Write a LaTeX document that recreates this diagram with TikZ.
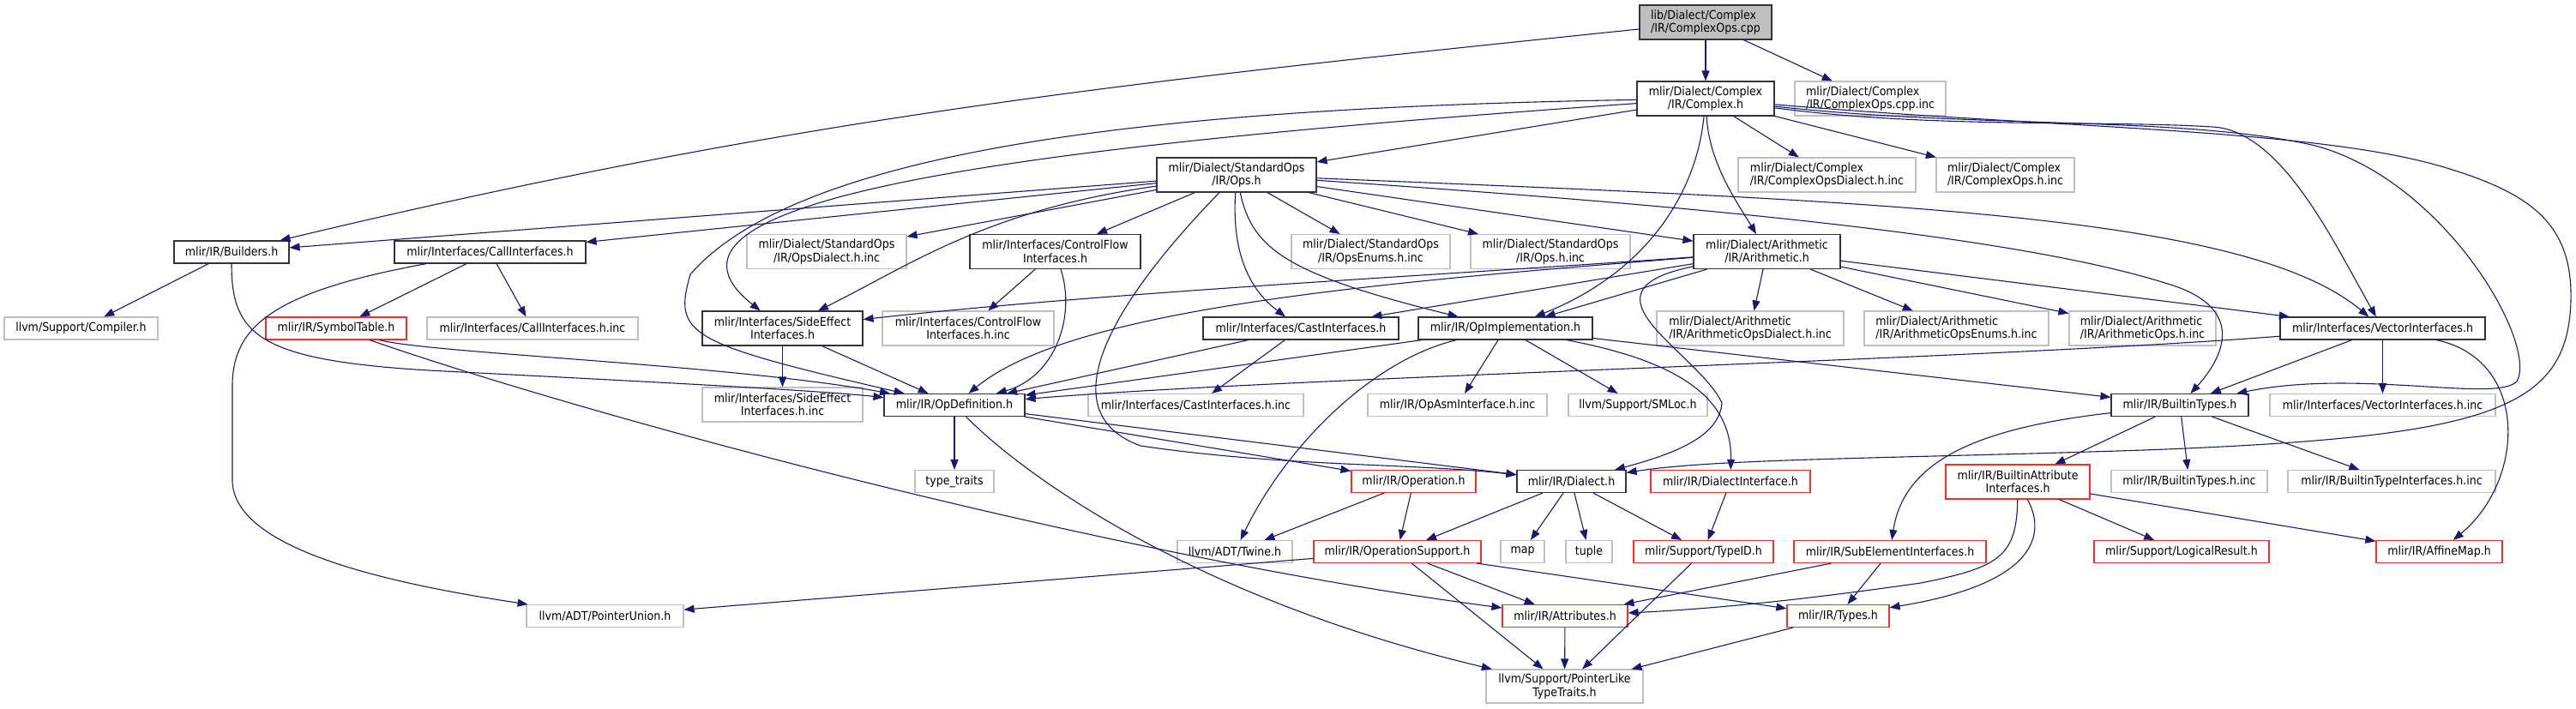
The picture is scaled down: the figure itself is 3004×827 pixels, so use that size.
\documentclass[tikz,border=0pt]{standalone}
\usepackage{fontspec}
\IfFontExistsTF{DejaVu Sans Condensed}{\setmainfont{DejaVu Sans Condensed}}{\setmainfont[FakeStretch=0.88]{DejaVu Sans}}
\usetikzlibrary{arrows.meta}
\definecolor{edgeblue}{HTML}{191970}
\definecolor{greyline}{HTML}{BFBFBF}
\definecolor{greyfill}{HTML}{BFBFBF}
\definecolor{redline}{HTML}{FF2A2A}
\definecolor{docline}{HTML}{333333}
\tikzset{
  box/.style={draw, line width=1.1pt, inner sep=0pt, align=center, font=\fontsize{14}{15.5}\selectfont},
  docbox/.style={box, draw=docline},
  extbox/.style={box, draw=greyline},
  redbox/.style={box, draw=redline},
  dep/.style={draw=edgeblue, line width=1.1pt, -{Triangle[length=12pt,width=9pt]}},
}
\begin{document}
\begin{tikzpicture}[x=1pt,y=-1pt]
\useasboundingbox (0,0) rectangle (3004,827);
% ---------- nodes ----------
\node[docbox, fill=greyfill, align=left, minimum width=154pt, minimum height=40pt] (root) at (1989,26) {lib/Dialect/Complex\\/IR/ComplexOps.cpp};
\node[docbox, minimum width=160pt, minimum height=40pt] (cplx) at (1989,115) {mlir/Dialect/Complex\\/IR/Complex.h};
\node[extbox, align=left, minimum width=176pt, minimum height=40pt] (cppinc) at (2181,115) {mlir/Dialect/Complex\\/IR/ComplexOps.cpp.inc};
\node[extbox, align=left, minimum width=207pt, minimum height=40pt] (codial) at (2130.5,204) {mlir/Dialect/Complex\\/IR/ComplexOpsDialect.h.inc};
\node[extbox, align=left, minimum width=161pt, minimum height=40pt] (coh) at (2338.5,204) {mlir/Dialect/Complex\\/IR/ComplexOps.h.inc};
\node[docbox, minimum width=186pt, minimum height=40pt] (stdops) at (1442,204) {mlir/Dialect/StandardOps\\/IR/Ops.h};
\node[docbox, minimum width=134pt, minimum height=26pt] (builders) at (270,294) {mlir/IR/Builders.h};
\node[docbox, minimum width=223pt, minimum height=26pt] (callif) at (571.5,294) {mlir/Interfaces/CallInterfaces.h};
\node[extbox, minimum width=179pt, minimum height=26pt] (compiler) at (94.5,383) {llvm/Support/Compiler.h};
\node[redbox, minimum width=164pt, minimum height=26pt] (symtab) at (392,383) {mlir/IR/SymbolTable.h};
\node[extbox, minimum width=246pt, minimum height=26pt] (callifinc) at (621,383) {mlir/Interfaces/CallInterfaces.h.inc};
\node[extbox, minimum width=186pt, minimum height=40pt] (opsdialinc) at (964,293.5) {mlir/Dialect/StandardOps\\/IR/OpsDialect.h.inc};
\node[docbox, minimum width=199pt, minimum height=40pt] (cfif) at (1230.5,293.5) {mlir/Interfaces/ControlFlow\\Interfaces.h};
\node[docbox, minimum width=187pt, minimum height=40pt] (seif) at (912.5,383) {mlir/Interfaces/SideEffect\\Interfaces.h};
\node[extbox, minimum width=200pt, minimum height=40pt] (cfifinc) at (1129,383) {mlir/Interfaces/ControlFlow\\Interfaces.h.inc};
\node[docbox, minimum width=228pt, minimum height=26pt] (castif) at (1517,383) {mlir/Interfaces/CastInterfaces.h};
\node[extbox, minimum width=187pt, minimum height=40pt] (seifinc) at (912.5,472) {mlir/Interfaces/SideEffect\\Interfaces.h.inc};
\node[docbox, minimum width=164pt, minimum height=26pt] (opdef) at (1113,472.5) {mlir/IR/OpDefinition.h};
\node[extbox, minimum width=251pt, minimum height=26pt] (castifinc) at (1394.5,472.5) {mlir/Interfaces/CastInterfaces.h.inc};
\node[extbox, minimum width=92pt, minimum height=26pt] (typetraits) at (1113,561.5) {type\_traits};
\node[extbox, minimum width=185pt, minimum height=40pt] (opsenums) at (1598.5,293.5) {mlir/Dialect/StandardOps\\/IR/OpsEnums.h.inc};
\node[extbox, minimum width=186pt, minimum height=40pt] (opshinc) at (1808,293.5) {mlir/Dialect/StandardOps\\/IR/Ops.h.inc};
\node[docbox, minimum width=171pt, minimum height=40pt] (arith) at (2060.5,293.5) {mlir/Dialect/Arithmetic\\/IR/Arithmetic.h};
\node[docbox, minimum width=203pt, minimum height=26pt] (opimpl) at (1755.5,383) {mlir/IR/OpImplementation.h};
\node[extbox, align=left, minimum width=218pt, minimum height=40pt] (arithdialinc) at (2041,383) {mlir/Dialect/Arithmetic\\/IR/ArithmeticOpsDialect.h.inc};
\node[extbox, align=left, minimum width=215pt, minimum height=40pt] (arithenums) at (2281.5,383) {mlir/Dialect/Arithmetic\\/IR/ArithmeticOpsEnums.h.inc};
\node[extbox, align=left, minimum width=171pt, minimum height=40pt] (arithops) at (2498.5,383) {mlir/Dialect/Arithmetic\\/IR/ArithmeticOps.h.inc};
\node[extbox, minimum width=209pt, minimum height=26pt] (opasm) at (1699.5,472.5) {mlir/IR/OpAsmInterface.h.inc};
\node[extbox, minimum width=162pt, minimum height=26pt] (smloc) at (1910,472.5) {llvm/Support/SMLoc.h};
\node[docbox, minimum width=239pt, minimum height=26pt] (vecif) at (2778.5,383) {mlir/Interfaces/VectorInterfaces.h};
\node[docbox, minimum width=160pt, minimum height=26pt] (btypes) at (2542,472.5) {mlir/IR/BuiltinTypes.h};
\node[extbox, minimum width=263pt, minimum height=26pt] (vecifinc) at (2778.5,472.5) {mlir/Interfaces/VectorInterfaces.h.inc};
\node[redbox, minimum width=145pt, minimum height=26pt] (operation) at (1648.5,561.5) {mlir/IR/Operation.h};
\node[docbox, minimum width=127pt, minimum height=26pt] (dialect) at (1832.5,561.5) {mlir/IR/Dialect.h};
\node[redbox, minimum width=186pt, minimum height=26pt] (dialif) at (2018,561.5) {mlir/IR/DialectInterface.h};
\node[redbox, minimum width=195pt, minimum height=26pt] (opsupport) at (1629.5,643.5) {mlir/IR/OperationSupport.h};
\node[extbox, minimum width=51pt, minimum height=26pt] (map) at (1775.5,643.5) {map};
\node[extbox, minimum width=54pt, minimum height=26pt] (tuple) at (1853,643.5) {tuple};
\node[redbox, minimum width=163pt, minimum height=26pt] (typeid) at (1986.5,643.5) {mlir/Support/TypeID.h};
\node[redbox, minimum width=224pt, minimum height=26pt] (subelem) at (2204,643.5) {mlir/IR/SubElementInterfaces.h};
\node[redbox, minimum width=146pt, minimum height=26pt] (attrs) at (1825,718.5) {mlir/IR/Attributes.h};
\node[redbox, minimum width=119pt, minimum height=26pt] (types) at (2143.5,718.5) {mlir/IR/Types.h};
\node[extbox, minimum width=183pt, minimum height=39pt] (ptrlike) at (1824.5,800.5) {llvm/Support/PointerLike\\TypeTraits.h};
\node[extbox, minimum width=134pt, minimum height=26pt] (twine) at (1440,643.5) {llvm/ADT/Twine.h};
\node[extbox, minimum width=183pt, minimum height=26pt] (ptrunion) at (705.5,718.5) {llvm/ADT/PointerUnion.h};
\node[redbox, minimum width=168pt, minimum height=40pt] (battrif) at (2353,562) {mlir/IR/BuiltinAttribute\\Interfaces.h};
\node[extbox, minimum width=182pt, minimum height=26pt] (btypesinc) at (2553,561.5) {mlir/IR/BuiltinTypes.h.inc};
\node[extbox, minimum width=242pt, minimum height=26pt] (btypeifinc) at (2789,561.5) {mlir/IR/BuiltinTypeInterfaces.h.inc};
\node[redbox, minimum width=204pt, minimum height=26pt] (logres) at (2544,643.5) {mlir/Support/LogicalResult.h};
\node[redbox, minimum width=147pt, minimum height=26pt] (affine) at (2844.5,643.5) {mlir/IR/AffineMap.h};
% ---------- edges ----------
% root
\draw[dep] (root) .. controls (1312,96) and (930,136) .. (builders);
\draw[dep] (root) -- (cplx);
\draw[dep] (root) -- (cppinc);
% Complex.h
\draw[dep] (cplx) -- (stdops);
\draw[dep] (cplx) -- (codial);
\draw[dep] (cplx) -- (coh);
\draw[dep] (cplx) .. controls (1993,190) and (2025,235) .. (arith);
\draw[dep] (cplx) .. controls (1978,230) and (1915,320) .. (opimpl);
\draw[dep] (cplx) .. controls (1200,170) and (720,230) .. (seif);
\draw[dep] (cplx) .. controls (1400,125) and (940,165) .. (805,320) .. controls (785,390) and (800,400) .. (opdef);
\draw[dep] (cplx) .. controls (2250,150) and (2450,140) .. (2580,148) .. controls (2660,152) and (2720,280) .. (vecif);
\draw[dep] (cplx) .. controls (2300,150) and (2550,135) .. (2700,170) .. controls (2850,210) and (2960,400) .. (2935,445) .. controls (2910,470) and (2750,430) .. (btypes);
\draw[dep] (cplx) .. controls (2400,150) and (2700,150) .. (2850,195) .. controls (2950,225) and (3000,260) .. (2998,350) .. controls (2995,480) and (2900,510) .. (2500,525) .. controls (2200,535) and (2000,535) .. (dialect);
% StandardOps/IR/Ops.h
\draw[dep] (stdops) -- (builders);
\draw[dep] (stdops) -- (callif);
\draw[dep] (stdops) -- (opsdialinc);
\draw[dep] (stdops) -- (cfif);
\draw[dep] (stdops) .. controls (1150,245) and (1060,310) .. (seif);
\draw[dep] (stdops) .. controls (1436,300) and (1460,340) .. (castif);
\draw[dep] (stdops) .. controls (1460,290) and (1500,320) .. (opimpl);
\draw[dep] (stdops) .. controls (1300,350) and (1220,480) .. (1330,520) .. controls (1500,545) and (1650,540) .. (dialect);
\draw[dep] (stdops) -- (opsenums);
\draw[dep] (stdops) -- (opshinc);
\draw[dep] (stdops) -- (arith);
\draw[dep] (stdops) .. controls (2200,235) and (2620,250) .. (vecif);
\draw[dep] (stdops) .. controls (1900,235) and (2350,270) .. (2540,335) .. controls (2620,365) and (2590,420) .. (btypes);
% Builders.h
\draw[dep] (builders) -- (compiler);
\draw[dep] (builders) .. controls (270,390) and (300,420) .. (500,432) .. controls (750,445) and (950,455) .. (opdef);
% CallInterfaces.h
\draw[dep] (callif) -- (symtab);
\draw[dep] (callif) -- (callifinc);
\draw[dep] (callif) .. controls (320,340) and (271,380) .. (271,450) -- (271,560) .. controls (271,640) and (450,680) .. (ptrunion);
% SymbolTable.h
\draw[dep] (symtab) .. controls (500,412) and (850,425) .. (opdef);
\draw[dep] (symtab) .. controls (700,490) and (1300,650) .. (attrs);
% SideEffect, ControlFlow, Cast
\draw[dep] (seif) -- (seifinc);
\draw[dep] (seif) -- (opdef);
\draw[dep] (cfif) -- (cfifinc);
\draw[dep] (cfif) .. controls (1255,370) and (1230,440) .. (opdef);
\draw[dep] (castif) -- (castifinc);
\draw[dep] (castif) -- (opdef);
% OpImplementation.h
\draw[dep] (opimpl) -- (opdef);
\draw[dep] (opimpl) -- (opasm);
\draw[dep] (opimpl) -- (smloc);
\draw[dep] (opimpl) .. controls (1600,420) and (1500,520) .. (twine);
\draw[dep] (opimpl) .. controls (1950,420) and (2020,460) .. (dialif);
\draw[dep] (opimpl) -- (btypes);
% Arithmetic.h
\draw[dep] (arith) -- (arithdialinc);
\draw[dep] (arith) -- (arithenums);
\draw[dep] (arith) -- (arithops);
\draw[dep] (arith) -- (vecif);
\draw[dep] (arith) .. controls (1700,320) and (1300,340) .. (seif);
\draw[dep] (arith) .. controls (1600,330) and (1250,360) .. (opdef);
\draw[dep] (arith) -- (castif);
\draw[dep] (arith) -- (opimpl);
\draw[dep] (arith) .. controls (1830,340) and (1980,410) .. (2008,470) .. controls (2005,510) and (1950,530) .. (dialect);
% OpDefinition.h
\draw[dep] (opdef) -- (typetraits);
\draw[dep] (opdef) -- (dialect);
\draw[dep] (opdef) -- (operation);
\draw[dep] (opdef) .. controls (1200,560) and (1400,700) .. (ptrlike);
% Operation.h, Dialect.h, DialectInterface.h
\draw[dep] (operation) -- (opsupport);
\draw[dep] (operation) -- (twine);
\draw[dep] (dialect) -- (opsupport);
\draw[dep] (dialect) -- (map);
\draw[dep] (dialect) -- (tuple);
\draw[dep] (dialect) -- (typeid);
\draw[dep] (dialif) -- (typeid);
% OperationSupport.h
\draw[dep] (opsupport) -- (ptrunion);
\draw[dep] (opsupport) -- (attrs);
\draw[dep] (opsupport) -- (ptrlike);
\draw[dep] (opsupport) -- (types);
% lower level
\draw[dep] (typeid) -- (ptrlike);
\draw[dep] (attrs) -- (ptrlike);
\draw[dep] (types) -- (ptrlike);
\draw[dep] (subelem) -- (attrs);
\draw[dep] (subelem) -- (types);
% BuiltinTypes.h
\draw[dep] (btypes) .. controls (2300,500) and (2220,540) .. (subelem);
\draw[dep] (btypes) -- (battrif);
\draw[dep] (btypes) -- (btypesinc);
\draw[dep] (btypes) -- (btypeifinc);
% BuiltinAttributeInterfaces.h
\draw[dep] (battrif) -- (logres);
\draw[dep] (battrif) -- (affine);
\draw[dep] (battrif) .. controls (2352,650) and (2330,662) .. (2240,680) .. controls (2100,700) and (2000,710) .. (attrs);
\draw[dep] (battrif) .. controls (2385,620) and (2380,680) .. (types);
% VectorInterfaces.h
\draw[dep] (vecif) -- (btypes);
\draw[dep] (vecif) -- (vecifinc);
\draw[dep] (vecif) .. controls (2950,420) and (2945,560) .. (affine);
\draw[dep] (vecif) .. controls (2300,420) and (1500,440) .. (opdef);
\end{tikzpicture}
\end{document}
